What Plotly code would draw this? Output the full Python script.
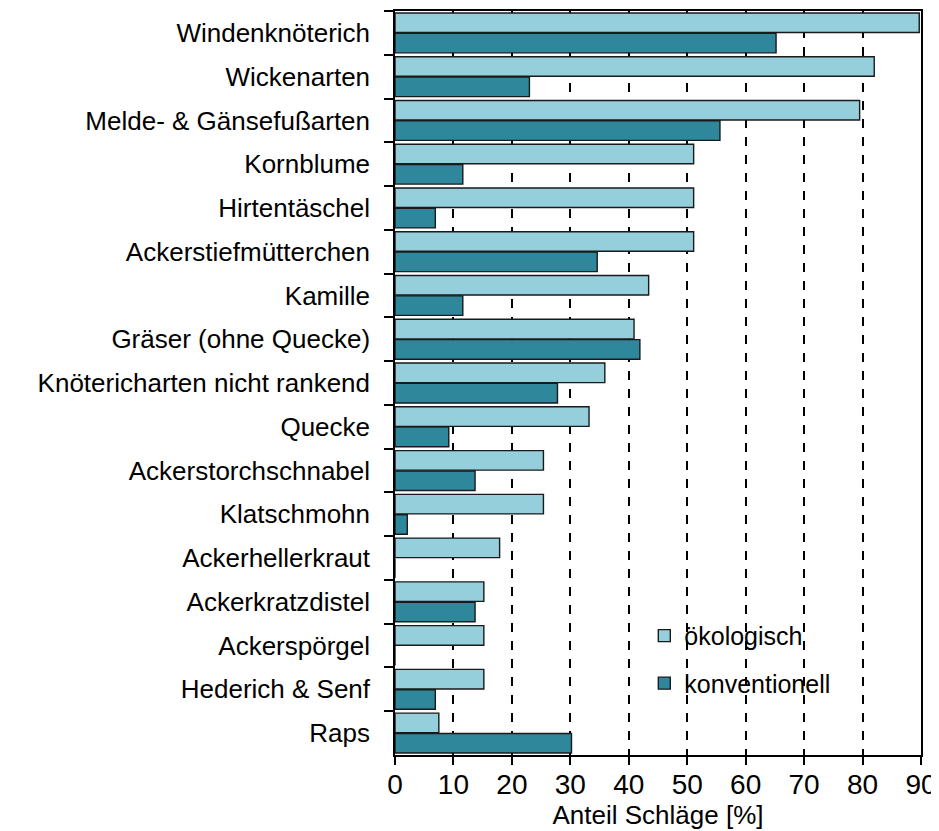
import plotly.graph_objects as go

categories = [
    "Windenknöterich", "Wickenarten", "Melde- & Gänsefußarten", "Kornblume",
    "Hirtentäschel", "Ackerstiefmütterchen", "Kamille", "Gräser (ohne Quecke)",
    "Knötericharten nicht rankend", "Quecke", "Ackerstorchschnabel", "Klatschmohn",
    "Ackerhellerkraut", "Ackerkratzdistel", "Ackerspörgel", "Hederich & Senf", "Raps",
]
oekologisch = [89.7, 82.0, 79.5, 51.1, 51.1, 51.1, 43.4, 40.9, 35.9, 33.2, 25.4, 25.4, 17.9, 15.2, 15.2, 15.2, 7.5]
konventionell = [65.2, 23.0, 55.6, 11.6, 6.9, 34.6, 11.6, 41.9, 27.8, 9.2, 13.7, 2.1, 0.0, 13.7, 0.0, 6.9, 30.2]
x_ticks = [0, 10, 20, 30, 40, 50, 60, 70, 80, 90]

FONT = "Liberation Sans, Arial, sans-serif"

fig = go.Figure()
fig.add_trace(go.Bar(
    y=categories, x=oekologisch, orientation="h", name="ökologisch",
    marker=dict(color="#96CFDC", line=dict(color="#1a1a1a", width=1.4)),
    legendgroup="a",
))
fig.add_trace(go.Bar(
    y=categories, x=konventionell, orientation="h", name="konventionell",
    marker=dict(color="#2F879C", line=dict(color="#1a1a1a", width=1.4)),
    legendgroup="b",
))

# page body has an 8px margin, so the figure is sized to fit inside the window
fig.update_layout(
    width=931, height=823,
    margin=dict(l=387, r=18, t=3, b=76),
    paper_bgcolor="white", plot_bgcolor="white",
    barmode="group", bargap=0.07, bargroupgap=0.04,
    font=dict(family=FONT, size=26, color="black"),
    legend=dict(
        x=0.474, y=0.191, xanchor="left", yanchor="top",
        bgcolor="rgba(0,0,0,0)", font=dict(size=25),
        tracegroupgap=12, itemwidth=30,
    ),
    showlegend=True,
)
fig.update_xaxes(
    range=[0, 90], tickvals=x_ticks, ticktext=[str(v) for v in x_ticks],
    showgrid=True, gridcolor="black", griddash="dash", gridwidth=1.5,
    showline=True, linecolor="black", linewidth=1.5, mirror=True,
    ticks="outside", ticklen=8, tickcolor="black", tickwidth=1.5,
    zeroline=False, automargin=False,
    title=dict(text="Anteil Schläge [%]", font=dict(size=26), standoff=4),
    tickfont=dict(size=28), ticklabelstandoff=-4,
)
fig.update_yaxes(
    categoryorder="array", categoryarray=categories, autorange="reversed",
    showline=True, linecolor="black", linewidth=1.5, mirror=True,
    ticks="outside", ticklen=9, tickcolor="black", tickwidth=1.5,
    tickson="boundaries", showgrid=False, automargin=False,
    tickfont=dict(size=26), ticklabelstandoff=18,
)

fig.write_html("out.html")
